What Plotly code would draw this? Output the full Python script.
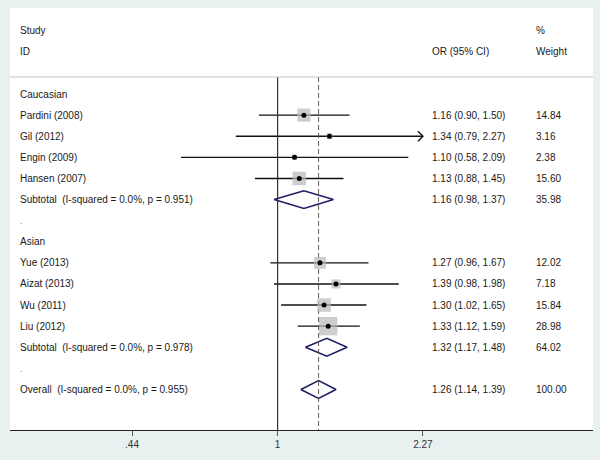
import math
import plotly.graph_objects as go

# ---------------- data ----------------
group_names = ["Caucasian", "Asian"]
study_names = ["Pardini (2008)", "Gil (2012)", "Engin (2009)", "Hansen (2007)",
               "Yue (2013)", "Aizat (2013)", "Wu (2011)", "Liu (2012)"]
study_group = [0, 0, 0, 0, 1, 1, 1, 1]
study_or = [1.16, 1.34, 1.10, 1.13, 1.27, 1.39, 1.30, 1.33]
study_lo = [0.90, 0.79, 0.58, 0.88, 0.96, 0.98, 1.02, 1.12]
study_hi = [1.50, 2.27, 2.09, 1.45, 1.67, 1.98, 1.65, 1.59]
study_weight = [14.84, 3.16, 2.38, 15.60, 12.02, 7.18, 15.84, 28.98]

subtotal_labels = ["Subtotal\u00a0\u00a0(I-squared = 0.0%, p = 0.951)",
                   "Subtotal\u00a0\u00a0(I-squared = 0.0%, p = 0.978)"]
subtotal_or = [1.16, 1.32]
subtotal_lo = [0.98, 1.17]
subtotal_hi = [1.37, 1.48]
subtotal_weight = [35.98, 64.02]

overall_label = "Overall\u00a0\u00a0(I-squared = 0.0%, p = 0.955)"
overall_or = 1.26
overall_lo = 1.14
overall_hi = 1.39
overall_weight = 100.00

tick_vals = [0.44, 1, 2.27]
tick_text = [".44", "1", "2.27"]
x_max_display = 2.27

# ---------------- layout constants ----------------
FONT = "Liberation Sans, Arial, sans-serif"
TXT = "#1a1a1a"
BOX = "#b8b8b8"
NAVY = "#1c1c66"
X_LABEL, X_OR, X_W = 0.0137, 0.7204, 0.8988
Y_TOP, Y_BOT = -4.076, 15.92
HEADER_LINE = -0.806

fig = go.Figure()
ann = []

def text(x, y, s, color=TXT):
    ann.append(dict(xref="paper", yref="y", x=x, y=y, text=s, showarrow=False,
                    xanchor="left", yanchor="middle",
                    font=dict(family=FONT, size=10, color=color)))

# header
text(X_LABEL, -3, "Study")
text(X_LABEL, -2, "ID")
text(X_OR, -2, "OR (95% CI)")
text(X_W, -3, "%")
text(X_W, -2, "Weight")

row = 0
box_x, box_y, box_s = [], [], []
dot_x, dot_y = [], []
for g, gname in enumerate(group_names):
    text(X_LABEL, row, gname)
    row += 1
    for i in range(len(study_names)):
        if study_group[i] != g:
            continue
        text(X_LABEL, row, study_names[i])
        text(X_OR, row, f"{study_or[i]:.2f} ({study_lo[i]:.2f}, {study_hi[i]:.2f})")
        text(X_W, row, f"{study_weight[i]:.2f}")
        fig.add_trace(go.Scatter(x=[study_lo[i], study_hi[i]], y=[row, row], mode="lines",
                                 line=dict(color="#111111", width=1.4), hoverinfo="skip"))
        if study_hi[i] >= x_max_display:
            f = math.exp(-5 / 177.3)
            fig.add_trace(go.Scatter(x=[study_hi[i] * f, study_hi[i], study_hi[i] * f],
                                     y=[row - 0.24, row, row + 0.24], mode="lines",
                                     line=dict(color="#111111", width=1.4), hoverinfo="skip"))
        box_x.append(study_or[i]); box_y.append(row)
        box_s.append(3.4 * math.sqrt(study_weight[i]))
        dot_x.append(study_or[i]); dot_y.append(row)
        row += 1
    text(X_LABEL, row, subtotal_labels[g])
    text(X_OR, row, f"{subtotal_or[g]:.2f} ({subtotal_lo[g]:.2f}, {subtotal_hi[g]:.2f})")
    text(X_W, row, f"{subtotal_weight[g]:.2f}")
    fig.add_trace(go.Scatter(x=[subtotal_lo[g], subtotal_or[g], subtotal_hi[g], subtotal_or[g], subtotal_lo[g]],
                             y=[row, row - 0.42, row, row + 0.42, row], mode="lines",
                             line=dict(color=NAVY, width=1.5), hoverinfo="skip"))
    row += 1
    text(X_LABEL, row, ".", color="#9a9a9a")
    row += 1

orow = row - 1 + 1
text(X_LABEL, orow, overall_label)
text(X_OR, orow, f"{overall_or:.2f} ({overall_lo:.2f}, {overall_hi:.2f})")
text(X_W, orow, f"{overall_weight:.2f}")
fig.add_trace(go.Scatter(x=[overall_lo, overall_or, overall_hi, overall_or, overall_lo],
                         y=[orow, orow - 0.42, orow, orow + 0.42, orow], mode="lines",
                         line=dict(color=NAVY, width=1.5), hoverinfo="skip"))

# reference lines
fig.add_trace(go.Scatter(x=[1, 1], y=[HEADER_LINE, Y_BOT], mode="lines",
                         line=dict(color="#333333", width=1.2), hoverinfo="skip"))
fig.add_trace(go.Scatter(x=[overall_or, overall_or], y=[HEADER_LINE, Y_BOT], mode="lines",
                         line=dict(color="#6a5858", width=1, dash="5px,3px"), hoverinfo="skip"))

# boxes and dots
fig.add_trace(go.Scatter(x=box_x, y=box_y, mode="markers",
                         marker=dict(symbol="square", size=box_s, color=BOX, line=dict(width=0)),
                         hoverinfo="skip"))
fig.add_trace(go.Scatter(x=dot_x, y=dot_y, mode="markers",
                         marker=dict(symbol="circle", size=5, color="#000000"), hoverinfo="skip"))

# header separator line (full width)
fig.add_shape(type="line", xref="paper", yref="y", x0=0, x1=1, y0=HEADER_LINE, y1=HEADER_LINE,
              line=dict(color="#c4c4c4", width=1))

fig.update_layout(
    width=600, height=460, autosize=False,
    margin=dict(l=10, r=7, t=8, b=30),
    paper_bgcolor="#e9f0f0", plot_bgcolor="#ffffff",
    showlegend=False, annotations=ann,
    xaxis=dict(type="log", range=[-0.6555, 0.7726], showgrid=False, zeroline=False,
               showline=True, linecolor="#222222", linewidth=1.3,
               ticks="outside", ticklen=5, tickcolor="#555555", tickwidth=1,
               tickvals=tick_vals, ticktext=tick_text,
               tickfont=dict(family=FONT, size=10, color="#333333")),
    yaxis=dict(range=[Y_BOT, Y_TOP], visible=False, showgrid=False, zeroline=False),
)

fig.write_html("out.html", config={"displayModeBar": False},
               post_script="document.body.style.margin='0';document.body.style.background='#e9f0f0';")
